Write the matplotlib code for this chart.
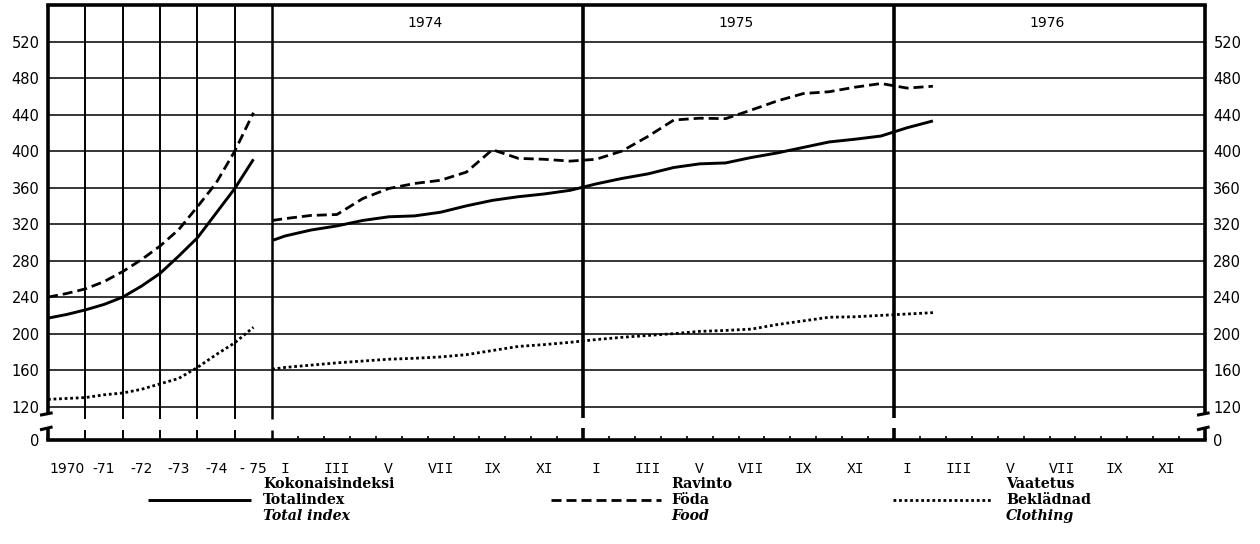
import numpy as np
import matplotlib.pyplot as plt
from matplotlib.lines import Line2D

# --- data ---
year_labels = ["1970", "-71", "-72", "-73", "-74", "- 75"]
month_labels = ["I", "III", "V", "VII", "IX", "XI"]
section_years = ["1974", "1975", "1976"]

# annual part: every half year from start of 1970 to mid 1975
total_annual = [217, 221, 226, 232, 240, 252, 266, 285, 305, 332, 359, 391]
food_annual = [240, 244, 249, 257, 268, 281, 296, 314, 339, 365, 400, 442]
cloth_annual = [128, 129, 130, 133, 135, 139, 145, 151, 163, 177, 190, 207]

# monthly part: value at the 1974 edge, then mid-month Jan 1974 .. Feb 1976
total_monthly = [302, 307, 313.5, 318, 324, 328, 329, 333, 340, 346, 350, 353, 357,
                 364, 370, 375, 382, 386, 387, 393, 398, 404, 410, 413, 416.5,
                 425.5, 433]
food_monthly = [324, 326, 329.5, 330.5, 348, 359, 364.5, 368, 377, 401.5, 392, 391, 389,
                391, 400, 416, 434, 436, 435.5, 445, 455, 463, 465, 470, 474,
                469, 471]
cloth_monthly = [161, 163, 165.5, 168, 170, 172, 173, 174.5, 177, 181.5, 186, 188, 190.5,
                 193.5, 196, 198, 200, 202.5, 203.5, 205, 210, 214, 218, 218.5, 220,
                 221.5, 223]

y_ticks = [120, 160, 200, 240, 280, 320, 360, 400, 440, 480, 520]

legend_lines = [["Kokonaisindeksi", "Totalindex", "Total index"],
                ["Ravinto", "Föda", "Food"],
                ["Vaatetus", "Beklädnad", "Clothing"]]

# --- layout ---
ANN_W = 8.65          # width of the annual part, in month units
YR_W = ANN_W / 6
N_MONTHS = 36
Y0, YTOP = 83.5, 560  # "0" sits at the broken bottom of the axis

ann_x = -ANN_W + np.arange(len(total_annual)) * YR_W / 2
mon_x = np.r_[0, np.arange(len(total_monthly) - 1) + 0.5]

fig = plt.figure(figsize=(12.6, 5.44), dpi=100)
ax = fig.add_axes([48 / 1260, 1 - 440 / 544, 1157 / 1260, 435 / 544])
ax.set_xlim(-ANN_W, N_MONTHS)
ax.set_ylim(Y0, YTOP)
for s in ax.spines.values():
    s.set_visible(False)

K = "black"
# horizontal grid
ax.hlines(y_ticks, -ANN_W, N_MONTHS, color=K, lw=1.1)
# frame: top, bottom, broken left and right sides
ax.plot([-ANN_W, N_MONTHS], [YTOP, YTOP], color=K, lw=2.6, clip_on=False)
ax.plot([-ANN_W, N_MONTHS], [Y0, Y0], color=K, lw=2.6, clip_on=False)
for xe in [-ANN_W, N_MONTHS]:
    ax.plot([xe, xe], [112, YTOP], color=K, lw=2.6, clip_on=False, solid_capstyle="butt")
    ax.plot([xe, xe], [Y0, 96], color=K, lw=2.6, clip_on=False, solid_capstyle="butt")
    ax.plot([xe - 0.25, xe + 0.12], [111, 113], color=K, lw=2.2, clip_on=False)
    ax.plot([xe - 0.25, xe + 0.12], [95, 97.5], color=K, lw=2.2, clip_on=False)

# vertical lines: annual grid, section edges
yr_edges = -ANN_W + np.arange(1, 6) * YR_W
ax.vlines(yr_edges, 107, YTOP, color=K, lw=1.4)
ax.vlines(yr_edges, Y0, 95, color=K, lw=1.4)
ax.vlines([0], 107, YTOP, color=K, lw=1.8)
ax.vlines([0], Y0, 95, color=K, lw=1.8)
ax.vlines([12, 24], 108, YTOP, color=K, lw=2.6)
ax.vlines([12, 24], Y0, 97, color=K, lw=2.6)
minor = [m for m in range(1, N_MONTHS) if m % 12]
ax.vlines(minor, Y0, 87.5, color=K, lw=1.2)

# series
solid = dict(color=K, lw=2.1, solid_capstyle="butt")
dashed = dict(color=K, lw=2.0, dashes=(3.6, 1.8))
dotted = dict(color=K, lw=2.0, dashes=(1.0, 1.0))
ax.plot(ann_x, total_annual, **solid)
ax.plot(mon_x, total_monthly, **solid)
ax.plot(ann_x, food_annual, **dashed)
ax.plot(mon_x, food_monthly, **dashed)
ax.plot(ann_x, cloth_annual, **dotted)
ax.plot(mon_x, cloth_monthly, **dotted)

# year headings over the monthly part
for i, yl in enumerate(section_years):
    ax.text(12 * i + 5.9, 540, yl, ha="center", va="center", fontsize=10,
            family="DejaVu Sans", color=K)

# y ticks on both sides
ax.set_yticks([Y0] + y_ticks, ["0"] + [str(v) for v in y_ticks])
ax.tick_params(axis="y", length=0, pad=6, labelsize=10.5, labelright=True,
               labelcolor=K)

# x ticks: years in the annual part, roman months in the monthly part
ann_lab_x = list(-ANN_W + (np.arange(6) + 0.5) * YR_W)
mon_lab_x = [12 * y + 2 * k + 0.5 for y in range(3) for k in range(6)]
ax.set_xticks(ann_lab_x + mon_lab_x, year_labels + month_labels * 3)
ax.tick_params(axis="x", length=0, pad=16, labelcolor=K)
for i, t in enumerate(ax.get_xticklabels()):
    if i < 6:
        t.set_family("DejaVu Sans")
        t.set_fontsize(10)
    else:
        t.set_family("Liberation Mono")
        t.set_fontsize(10.5)

# legend under the chart
samples = [((148, 251), solid), ((551, 661), dashed), ((893, 993), dotted)]
text_x = [263, 671, 1006]
for ((x0, x1), style), tx, lines in zip(samples, text_x, legend_lines):
    y = 1 - 500 / 544
    fig.add_artist(Line2D([x0 / 1260, x1 / 1260], [y, y], transform=fig.transFigure, **style))
    for j, (txt, yp) in enumerate(zip(lines, [484, 500, 516])):
        fig.text(tx / 1260, 1 - yp / 544, txt, ha="left", va="center", fontsize=10.2,
                 family="DejaVu Serif", weight="bold",
                 style="italic" if j == 2 else "normal", color=K)

fig.savefig("out.png", dpi=100, facecolor="white")
